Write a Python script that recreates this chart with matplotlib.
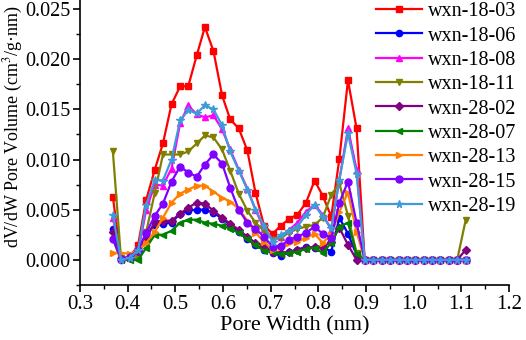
import matplotlib
matplotlib.use("Agg")
import matplotlib.pyplot as plt
from matplotlib.ticker import MultipleLocator

plt.rcParams['font.family'] = ['Liberation Serif', 'DejaVu Serif']
plt.rcParams['mathtext.fontset'] = 'stix'

# pore width (nm)
width = [0.369, 0.386, 0.404, 0.422, 0.439, 0.457, 0.474, 0.492, 0.510, 0.527,
         0.545, 0.562, 0.580, 0.598, 0.615, 0.633, 0.651, 0.668, 0.686, 0.704,
         0.721, 0.739, 0.756, 0.774, 0.792, 0.809, 0.827, 0.844, 0.862, 0.880,
         0.897, 0.915, 0.933, 0.950, 0.968, 0.985, 1.003, 1.021, 1.038, 1.056,
         1.074, 1.091, 1.109]

tail = [0.0] * 12

wxn_18_03 = [0.0063, 0.0001, 0.0002, 0.0015, 0.0060, 0.0090, 0.0116, 0.0155, 0.0173, 0.0173,
             0.0204, 0.0232, 0.0208, 0.0164, 0.0140, 0.0131, 0.0109, 0.0067, 0.0034, 0.0026,
             0.0034, 0.0041, 0.0045, 0.0057, 0.0079, 0.0064, 0.0043, 0.0101, 0.0179, 0.0131,
             0.0] + tail
wxn_18_06 = [0.0031, 0.0000, 0.0002, 0.0008, 0.0026, 0.0035, 0.0036, 0.0037, 0.0046, 0.0049,
             0.0050, 0.0050, 0.0047, 0.0041, 0.0035, 0.0028, 0.0021, 0.0015, 0.0010, 0.0007,
             0.0004, 0.0008, 0.0010, 0.0013, 0.0012, 0.0013, 0.0008, 0.0042, 0.0026, 0.0005,
             0.0] + tail
wxn_18_08 = [0.0042, 0.0001, 0.0003, 0.0008, 0.0050, 0.0075, 0.0074, 0.0091, 0.0136, 0.0154,
             0.0145, 0.0142, 0.0144, 0.0130, 0.0110, 0.0090, 0.0071, 0.0050, 0.0031, 0.0021,
             0.0023, 0.0030, 0.0037, 0.0048, 0.0055, 0.0045, 0.0030, 0.0080, 0.0131, 0.0090,
             0.0] + tail
wxn_18_11 = [0.0108, 0.0002, 0.0001, 0.0002, 0.0028, 0.0067, 0.0105, 0.0105, 0.0105, 0.0108,
             0.0116, 0.0124, 0.0122, 0.0110, 0.0089, 0.0066, 0.0049, 0.0037, 0.0029, 0.0020,
             0.0022, 0.0027, 0.0031, 0.0033, 0.0035, 0.0042, 0.0065, 0.0076, 0.0044, 0.0007,
             0.0] + tail[:-1] + [0.0040]
wxn_28_02 = [0.0028, 0.0001, 0.0003, 0.0009, 0.0021, 0.0038, 0.0039, 0.0039, 0.0046, 0.0052,
             0.0057, 0.0056, 0.0049, 0.0042, 0.0036, 0.0030, 0.0023, 0.0017, 0.0014, 0.0008,
             0.0007, 0.0008, 0.0010, 0.0012, 0.0013, 0.0013, 0.0018, 0.0032, 0.0015, 0.0000,
             0.0] + tail[:-1] + [0.0010]
wxn_28_07 = [0.0021, 0.0000, 0.0000, 0.0000, 0.0012, 0.0025, 0.0025, 0.0029, 0.0037, 0.0040,
             0.0040, 0.0037, 0.0036, 0.0034, 0.0031, 0.0027, 0.0021, 0.0015, 0.0009, 0.0008,
             0.0006, 0.0007, 0.0008, 0.0011, 0.0012, 0.0007, 0.0017, 0.0033, 0.0037, 0.0006,
             0.0] + tail
wxn_28_13 = [0.0007, 0.0007, 0.0006, 0.0010, 0.0017, 0.0028, 0.0042, 0.0057, 0.0066, 0.0070,
             0.0074, 0.0074, 0.0068, 0.0062, 0.0058, 0.0051, 0.0039, 0.0027, 0.0018, 0.0010,
             0.0013, 0.0017, 0.0018, 0.0022, 0.0026, 0.0017, 0.0025, 0.0048, 0.0067, 0.0028,
             0.0] + tail
wxn_28_15 = [0.0021, 0.0001, 0.0003, 0.0010, 0.0027, 0.0044, 0.0056, 0.0078, 0.0093, 0.0087,
             0.0083, 0.0095, 0.0105, 0.0096, 0.0072, 0.0050, 0.0037, 0.0031, 0.0023, 0.0013,
             0.0014, 0.0020, 0.0023, 0.0027, 0.0033, 0.0026, 0.0022, 0.0057, 0.0078, 0.0037,
             0.0] + tail
wxn_28_19 = [0.0045, 0.0000, 0.0002, 0.0010, 0.0055, 0.0080, 0.0079, 0.0100, 0.0139, 0.0149,
             0.0146, 0.0154, 0.0150, 0.0134, 0.0108, 0.0089, 0.0070, 0.0050, 0.0034, 0.0018,
             0.0025, 0.0029, 0.0033, 0.0045, 0.0055, 0.0043, 0.0032, 0.0080, 0.0126, 0.0086,
             0.0] + tail

labels = ["wxn-18-03", "wxn-18-06", "wxn-18-08", "wxn-18-11", "wxn-28-02",
          "wxn-28-07", "wxn-28-13", "wxn-28-15", "wxn-28-19"]
series = [wxn_18_03, wxn_18_06, wxn_18_08, wxn_18_11, wxn_28_02,
          wxn_28_07, wxn_28_13, wxn_28_15, wxn_28_19]
colors = ["#FF0000", "#0000FF", "#FF00FF", "#808000", "#800080",
          "#008000", "#FF8000", "#8000FF", "#3E9BD8"]
markers = ["s", "o", "^", "v", "D", "<", ">", "o", "*"]
msizes = [4.5, 4.5, 5, 5, 4, 5, 5, 5, 5.5]

fig = plt.figure(figsize=(5.26, 3.40), dpi=100)
ax = fig.add_axes([0.152, 0.162, 0.816, 0.838])

for y, lab, c, m, ms in zip(series, labels, colors, markers, msizes):
    ax.plot(width, y, color=c, marker=m, markersize=ms, lw=1.6, label=lab)

ax.set_xlim(0.3, 1.2)
ax.set_ylim(-0.0025, 0.0259)
ax.xaxis.set_minor_locator(MultipleLocator(0.05))
ax.yaxis.set_minor_locator(MultipleLocator(0.0025))
ax.set_xticks([0.3, 0.4, 0.5, 0.6, 0.7, 0.8, 0.9, 1.0, 1.1, 1.2])
ax.set_xticklabels(["0.3", "0.4", "0.5", "0.6", "0.7", "0.8", "0.9", "1.0", "1.1", "1.2"])
ax.set_yticks([0.0, 0.005, 0.010, 0.015, 0.020, 0.025])
ax.set_yticklabels(["0.000", "0.005", "0.010", "0.015", "0.020", "0.025"])

ax.spines['top'].set_visible(False)
ax.spines['right'].set_visible(False)
ax.spines['left'].set_linewidth(1.2)
ax.spines['bottom'].set_linewidth(1.2)
ax.tick_params(which='major', direction='out', length=5, width=1.2, labelsize=14.5, pad=2)
ax.tick_params(which='minor', direction='out', length=3, width=1.0)
ax.tick_params(axis='x', labelsize=15)

ax.set_xlabel("Pore Width (nm)", fontsize=16, labelpad=2)
ax.set_ylabel("dV/dW Pore Volume (cm$^3$/g·nm)", fontsize=13)
ax.yaxis.set_label_coords(-0.128, 0.555)

ax.legend(loc='upper right', bbox_to_anchor=(1.045, 1.035), frameon=False, fontsize=14.5,
          handlelength=2.3, handletextpad=0.3, labelspacing=0.26, borderaxespad=0.2)

fig.savefig("out.png", dpi=100)
